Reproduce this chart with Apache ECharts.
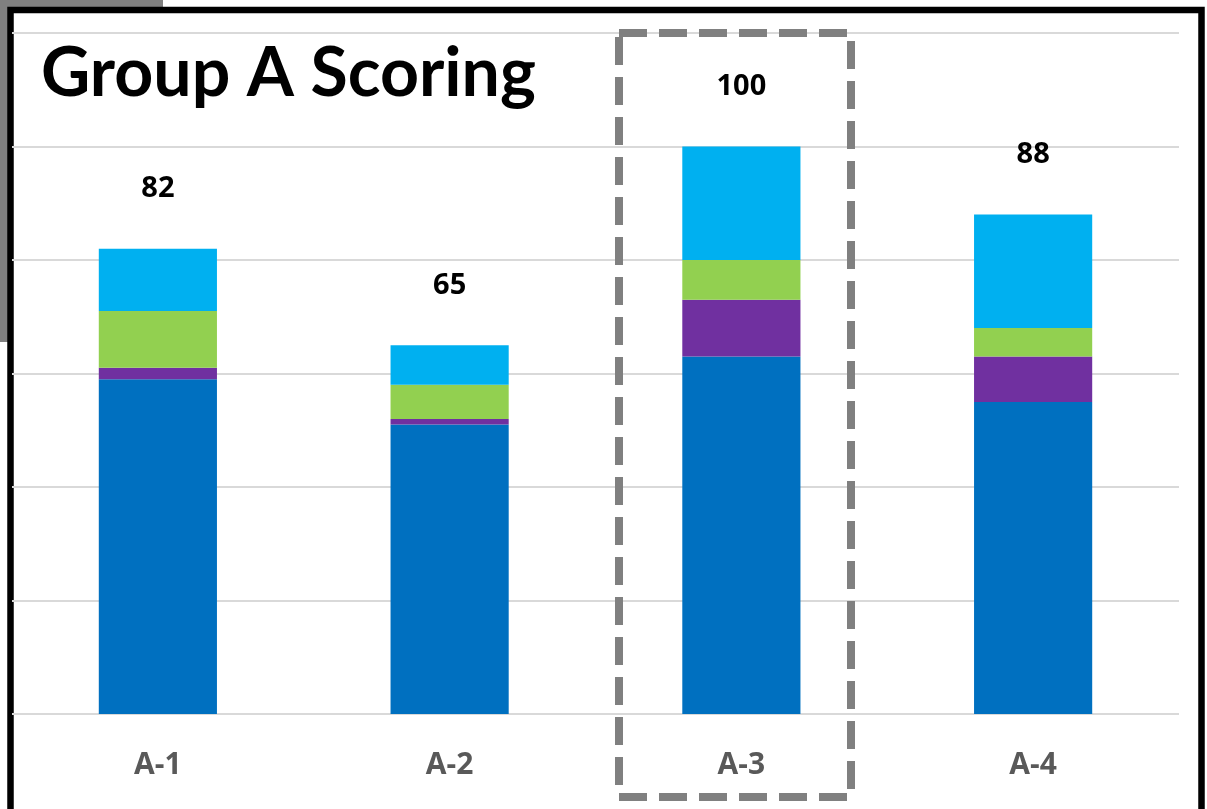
<!DOCTYPE html>
<html>
<head>
<meta charset="utf-8">
<script src="https://cdn.jsdelivr.net/npm/echarts@6/dist/echarts.min.js"></script>
<style>
  html, body { margin: 0; padding: 0; background: #ffffff; }
  #chart { width: 1207px; height: 809px; }
</style>
</head>
<body>
<div id="chart"></div>
<script>
const categories = ['A-1', 'A-2', 'A-3', 'A-4'];
const baseScore = [59, 51, 63, 55];
const purpleScore = [2, 1, 10, 8];
const greenScore = [10, 6, 7, 5];
const cyanScore = [11, 7, 20, 20];
const totals = [82, 65, 100, 88];
const yTicks = [0, 20, 40, 60, 80, 100, 120];

const TITLE_FONT = 'Lato';
const LABEL_FONT = 'Open Sans';
const chart = echarts.init(document.getElementById('chart'), null, { renderer: 'canvas' });

function barSeries(name, data, color, withLabel) {
  const s = {
    name: name,
    type: 'bar',
    stack: 'score',
    data: data,
    barWidth: '40.5%',
    itemStyle: { color: color },
    emphasis: { disabled: true }
  };
  if (withLabel) {
    s.label = {
      show: true,
      position: 'top',
      distance: 45,
      formatter: function (p) { return String(totals[p.dataIndex]); },
      fontFamily: LABEL_FONT,
      fontWeight: 'bold',
      fontSize: 29,
      color: '#000000'
    };
  }
  return s;
}

chart.setOption({
  animation: false,
  backgroundColor: 'transparent',
  grid: { left: 12, right: 28, top: 33, bottom: 95, containLabel: false },
  xAxis: {
    type: 'category',
    data: categories,
    axisLine: { show: false },
    axisTick: { show: false },
    axisLabel: {
      margin: 36,
      fontFamily: LABEL_FONT,
      fontWeight: 'bold',
      fontSize: 30,
      color: '#595959'
    }
  },
  yAxis: {
    type: 'value',
    min: yTicks[0],
    max: yTicks[yTicks.length - 1],
    interval: yTicks[1] - yTicks[0],
    axisLabel: { show: false },
    axisLine: { show: false },
    axisTick: { show: false },
    splitLine: { show: true, lineStyle: { color: '#d9d9d9', width: 2 } }
  },
  graphic: {
    elements: [
      { type: 'rect', z: -20, silent: true,
        shape: { x: 0, y: 0, width: 163, height: 342 },
        style: { fill: '#808080' } },
      { type: 'rect', z: -19, silent: true,
        shape: { x: 10.5, y: 10, width: 1191, height: 900 },
        style: { fill: '#ffffff', stroke: '#000000', lineWidth: 6.5 } },
      { type: 'text', z: 50, silent: true,
        left: 41, top: 40,
        style: { text: 'Group A Scoring', fontFamily: TITLE_FONT, fontWeight: 'bold', fontSize: 68, fill: '#000000' } },
      { type: 'rect', z: 60, silent: true,
        shape: { x: 619, y: 33, width: 232, height: 764 },
        style: { fill: 'none', stroke: '#808080', lineWidth: 8, lineDash: [28, 12] } }
    ]
  },
  series: [
    barSeries('Base', baseScore, '#0070C0', false),
    barSeries('Purple', purpleScore, '#7030A0', false),
    barSeries('Green', greenScore, '#92D050', false),
    barSeries('Cyan', cyanScore, '#00B0F0', true)
  ]
});
</script>
</body>
</html>
